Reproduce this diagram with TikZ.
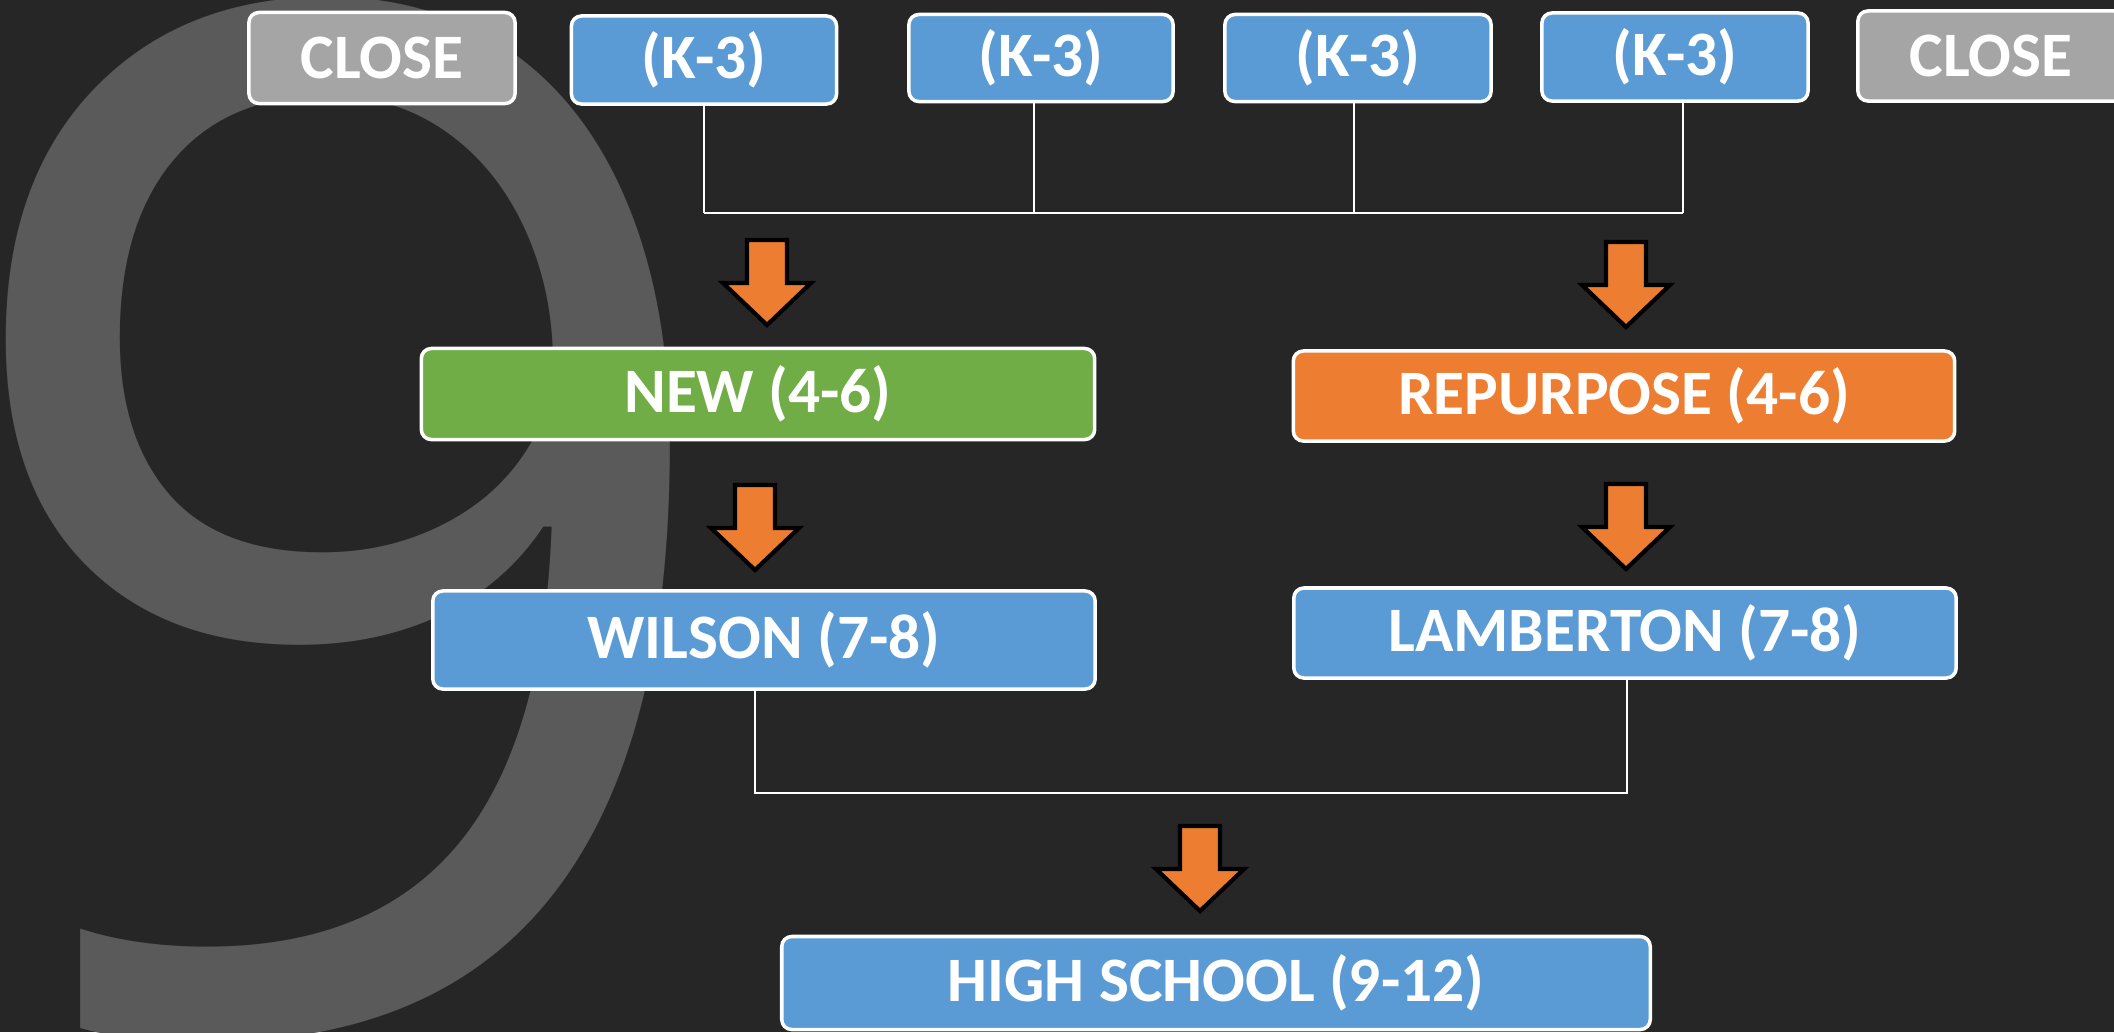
\documentclass[tikz,border=0pt]{standalone}
\usepackage{fontspec}
\setmainfont{Carlito}
\newfontfamily\ninefont{Open Sans}
\usetikzlibrary{calc}
\definecolor{bg}{HTML}{262626}
\definecolor{nine}{HTML}{5A5A5A}
\definecolor{cgray}{HTML}{A5A5A5}
\definecolor{cblue}{HTML}{5B9BD5}
\definecolor{cgreen}{HTML}{70AD47}
\definecolor{corange}{HTML}{ED7D31}
\tikzset{
  box/.style={draw=white, line width=1pt, rounded corners=0.1cm, text=white,
    font=\bfseries\fontsize{18pt}{22pt}\selectfont, inner sep=0pt, align=center},
  conn/.style={draw=white, line width=0.8pt},
  blockarrow/.style={fill=corange, draw=black, line width=1.2pt, line join=miter},
  downarrow/.pic={\path[blockarrow] (-20,-43) -- (20,-43) -- (20,0) -- (44,0) -- (0,42) -- (-44,0) -- (-20,0) -- cycle;}
}
\begin{document}
\begin{tikzpicture}[x=0.01cm,y=-0.01cm]
\useasboundingbox (0,0) rectangle (2114,1032);
\fill[bg] (0,0) rectangle (2114,1032);
\clip (0,0) rectangle (2114,1032);
\node[anchor=base, text=nine, inner sep=0pt, font=\ninefont\fontsize{405pt}{405pt}\selectfont] (nine) at (340,1028) {9};

\node[box, fill=cgray, minimum width=2.66cm, minimum height=0.91cm] (cl1) at (382,58) {CLOSE};
\node[box, fill=cblue, minimum width=2.65cm, minimum height=0.88cm] (k1) at (704,60) {(K-3)};
\node[box, fill=cblue, minimum width=2.64cm, minimum height=0.87cm] (k2) at (1041,58) {(K-3)};
\node[box, fill=cblue, minimum width=2.66cm, minimum height=0.87cm] (k3) at (1358,58) {(K-3)};
\node[box, fill=cblue, minimum width=2.66cm, minimum height=0.88cm] (k4) at (1675,57) {(K-3)};
\node[box, fill=cgray, minimum width=2.66cm, minimum height=0.90cm] (cl2) at (1991,56) {CLOSE};

\node[box, fill=cgreen, minimum width=6.73cm, minimum height=0.91cm] (new) at (758,394) {NEW (4-6)};
\node[box, fill=corange, minimum width=6.61cm, minimum height=0.90cm] (rep) at (1624,396) {REPURPOSE (4-6)};
\node[box, fill=cblue, minimum width=6.62cm, minimum height=0.98cm] (wil) at (764,640) {WILSON (7-8)};
\node[box, fill=cblue, minimum width=6.62cm, minimum height=0.90cm] (lam) at (1625,633) {LAMBERTON (7-8)};
\node[box, fill=cblue, minimum width=8.68cm, minimum height=0.93cm] (hs) at (1216,983) {HIGH SCHOOL (9-12)};

% top connectors
\coordinate (hb) at (0,213);
\coordinate (v1) at (k1.south);
\coordinate (v2) at ($(k2.south)+(-7,0)$);
\coordinate (v3) at ($(k3.south)+(-4,0)$);
\coordinate (v4) at ($(k4.south)+(8,0)$);
\draw[conn] (v1) -- (v1 |- hb);
\draw[conn] (v2) -- (v2 |- hb);
\draw[conn] (v3) -- (v3 |- hb);
\draw[conn] (v4) -- (v4 |- hb);
\draw[conn] (v1 |- hb) -- (v4 |- hb);

% bottom connector
\coordinate (lb) at (0,793);
\coordinate (w1) at ($(wil.south)+(-9,0)$);
\coordinate (l1) at ($(lam.south)+(2,0)$);
\draw[conn] (w1) |- (l1 |- lb) -- (l1);

% block arrows
\coordinate (a1) at (767,283);
\coordinate (a2) at (1626,285);
\coordinate (a3) at (755,528);
\coordinate (a4) at (1626,527);
\coordinate (a5) at (1200,869);
\foreach \a in {a1,a2,a3,a4,a5} \pic at (\a) {downarrow};
\end{tikzpicture}
\end{document}
